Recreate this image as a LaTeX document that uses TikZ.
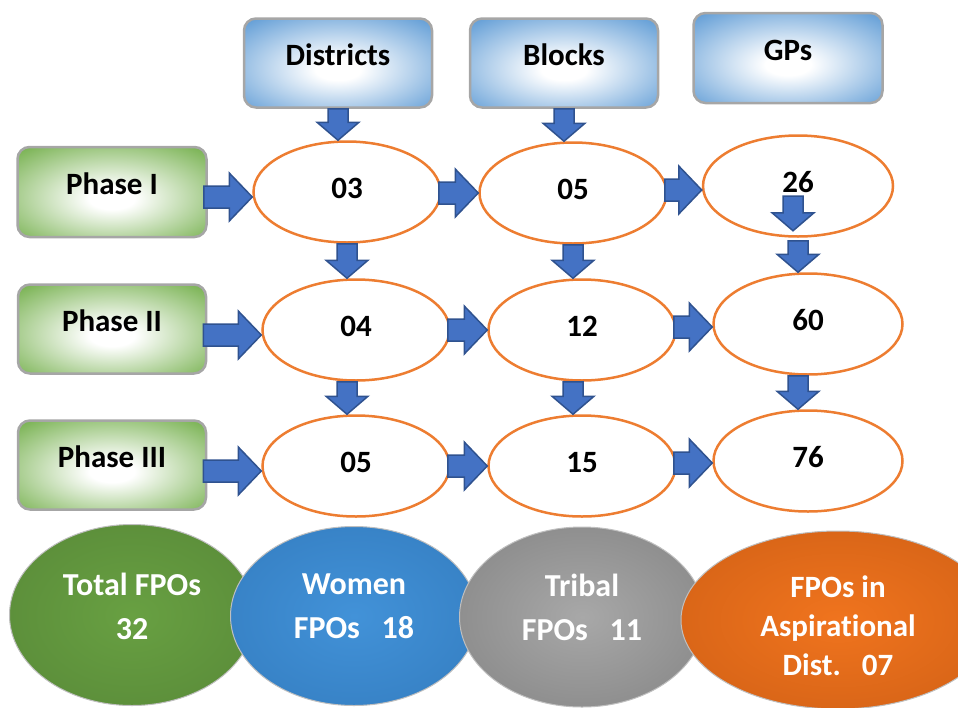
\documentclass[tikz,border=0pt]{standalone}
\usepackage{fontspec}
\setmainfont{Carlito}[Ligatures=NoCommon]
\usepackage{tikz}
\usetikzlibrary{shapes.geometric,positioning,calc}
\usepackage{xcolor}
\definecolor{boxblue}{RGB}{86,150,211}
\definecolor{boxgreen}{RGB}{110,172,68}
\definecolor{boxgray}{RGB}{166,166,166}
\definecolor{ringorange}{RGB}{237,125,49}
\definecolor{arrowblue}{RGB}{68,114,196}
\definecolor{arrowedge}{RGB}{47,82,143}
\definecolor{fpogreenin}{RGB}{104,160,66}
\definecolor{fpogreenout}{RGB}{82,128,52}
\definecolor{fpobluein}{RGB}{66,146,216}
\definecolor{fpoblueout}{RGB}{46,116,182}
\definecolor{fpograyin}{RGB}{168,168,168}
\definecolor{fpograyout}{RGB}{118,118,118}
\definecolor{fpoorangein}{RGB}{240,116,30}
\definecolor{fpoorangeout}{RGB}{196,88,18}
\pgfdeclareradialshading{levelshade}{\pgfpoint{0bp}{-4bp}}{color(0bp)=(white); color(6bp)=(white); color(38bp)=(boxblue); color(72bp)=(boxblue)}
\pgfdeclareradialshading{phaseshade}{\pgfpoint{0bp}{-4bp}}{color(0bp)=(white); color(6bp)=(white); color(38bp)=(boxgreen); color(72bp)=(boxgreen)}
\pgfdeclareradialshading{totalshade}{\pgfpoint{0bp}{0bp}}{color(0bp)=(fpogreenin); color(50bp)=(fpogreenout); color(72bp)=(fpogreenout)}
\pgfdeclareradialshading{womenshade}{\pgfpoint{0bp}{0bp}}{color(0bp)=(fpobluein); color(50bp)=(fpoblueout); color(72bp)=(fpoblueout)}
\pgfdeclareradialshading{tribalshade}{\pgfpoint{0bp}{0bp}}{color(0bp)=(fpograyin); color(50bp)=(fpograyout); color(72bp)=(fpograyout)}
\pgfdeclareradialshading{aspirshade}{\pgfpoint{0bp}{0bp}}{color(0bp)=(fpoorangein); color(50bp)=(fpoorangeout); color(72bp)=(fpoorangeout)}
\tikzstyle{levelbox} = [rectangle, rounded corners=12pt, minimum width=188pt, minimum height=89pt, draw=boxgray, line width=2.5pt, shading=levelshade, text height=22pt, text depth=18pt]
\tikzstyle{phasebox} = [levelbox, shading=phaseshade]
\tikzstyle{countnode} = [ellipse, minimum width=187pt, minimum height=101pt, draw=ringorange, line width=2.5pt, fill=white, text height=22pt, text depth=10pt]
\tikzstyle{fpo} = [ellipse, draw=black!25, line width=1pt, text=white, align=center, font=\fontsize{32}{44}\selectfont\bfseries]
\tikzstyle{blockarrow} = [fill=arrowblue, draw=arrowedge, line width=1.5pt]
\newcommand{\blockright}[2]{%
  \path[blockarrow] let \p1=(#1), \p2=(#2) in
    (\x1,\y2+11pt) -- (\x2-23pt,\y2+11pt) -- (\x2-23pt,\y2+24pt) -- (\x2,\y2)
    -- (\x2-23pt,\y2-24pt) -- (\x2-23pt,\y2-11pt) -- (\x1,\y2-11pt) -- cycle;}
\newcommand{\blockdown}[2]{%
  \path[blockarrow] let \p1=(#1), \p2=(#2) in
    (\x1-10pt,\y1) -- (\x1+10pt,\y1) -- (\x1+10pt,\y2+18pt) -- (\x1+21pt,\y2+18pt)
    -- (\x1,\y2) -- (\x1-21pt,\y2+18pt) -- (\x1-10pt,\y2+18pt) -- cycle;}

\begin{document}
\begin{tikzpicture}[x=1pt, y=-1pt, font=\fontsize{31}{36}\selectfont\bfseries]
\useasboundingbox (0,0) rectangle (958,707);
\clip (0,0) rectangle (958,707);
% column heads
\node (dist) [levelbox] at (338,63) {Districts};
\node (blk) [levelbox, right of=dist, node distance=226pt] {Blocks};
\node (gps) [levelbox, minimum width=189pt, minimum height=90pt] at (788,58) {GPs};

% phases
\node (ph1) [phasebox, minimum width=189pt, minimum height=90pt] at (112,192) {Phase I};
\node (ph2) [phasebox, below of=ph1, node distance=137pt] {Phase II};
\node (ph3) [phasebox, below of=ph2, node distance=136pt] {Phase III};

% counts
\node (e11) [countnode] at (347,192) {03};
\node (e12) [countnode] at (573,193) {05};
\node (e13) [countnode, minimum width=190pt] at (798,186) {26};
\node (e21) [countnode] at (356,330) {04};
\node (e22) [countnode, right of=e21, node distance=226pt] {12};
\node (e23) [countnode, minimum width=189pt] at (808,324) {60};
\node (e31) [countnode, below of=e21, node distance=136pt] {05};
\node (e32) [countnode, right of=e31, node distance=226pt] {15};
\node (e33) [countnode, minimum width=189pt] at (808,461) {76};

% totals
\node (total) [fpo, shading=totalshade, minimum width=245pt, minimum height=181pt] at (132,615) {Total FPOs\\32\rule[-18pt]{0pt}{18pt}};
\node (women) [fpo, shading=womenshade, minimum width=247pt, minimum height=179pt] at (354,616) {Women\\FPOs~~~18\rule[-19pt]{0pt}{19pt}};
\node (tribal) [fpo, shading=tribalshade, minimum width=245pt, minimum height=180pt] at (582,617) {Tribal\\FPOs~~~11\rule[-19pt]{0pt}{19pt}};
\node (aspir) [fpo, shading=aspirshade, minimum width=314pt, minimum height=178pt, font=\fontsize{31}{39}\selectfont\bfseries] at (838,620) {\rule{0pt}{34pt}FPOs in\\Aspirational\\Dist.~~~07};

% flow arrows
\blockdown{dist.south}{e11.north}
\blockdown{blk.south}{e12.north}
\blockright{[xshift=-4pt]ph1.east}{[yshift=-5pt]e11.west}
\blockright{[xshift=-3pt]e11.east}{e12.west}
\blockright{[xshift=-3pt]e12.east}{[yshift=-4pt]e13.west}
\blockright{[xshift=-4pt]ph2.east}{[yshift=-5pt]e21.west}
\blockright{[xshift=-3pt]e21.east}{e22.west}
\blockright{[xshift=-3pt]e22.east}{[yshift=-3pt]e23.west}
\blockright{[xshift=-4pt]ph3.east}{[yshift=-5pt]e31.west}
\blockright{[xshift=-3pt]e31.east}{e32.west}
\blockright{[xshift=-3pt]e32.east}{[yshift=-2pt]e33.west}
\blockdown{e11.south}{e21.north}
\blockdown{e12.south}{e22.north}
\blockdown{[shift={(-5,10)}]e13.center}{[shift={(-5,-7)}]e13.south}
\blockdown{[yshift=-3pt]e13.south}{e23.north}
\blockdown{e11 |- e21.south}{e31.north}
\blockdown{e12 |- e22.south}{e32.north}
\blockdown{e13 |- e23.south}{e33.north}
\end{tikzpicture}
\end{document}
